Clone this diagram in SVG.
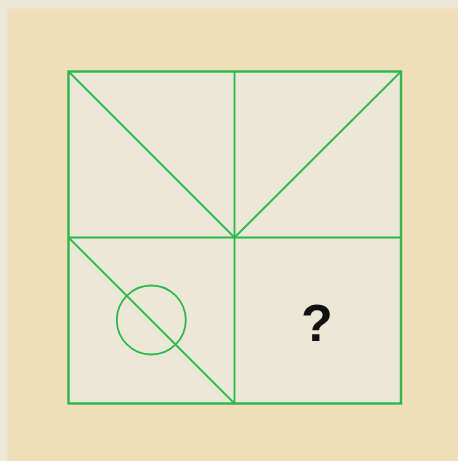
<svg xmlns="http://www.w3.org/2000/svg" width="458" height="461" viewBox="0 0 458 461">
<style>
.ln{stroke:#2bb84a;stroke-width:1.8;fill:none}
.out{stroke:#2bb84a;stroke-width:2.4;fill:#ece8d7}
.q{font-family:"Liberation Sans",Arial,sans-serif;font-weight:bold;font-size:52px;fill:#111}
</style>
<rect x="0" y="0" width="458" height="461" fill="#ece8d8"/>
<rect x="7.5" y="8.5" width="451" height="453" fill="#f0deb8"/>
<g id="grid">
<rect class="out" x="68.5" y="71.5" width="332.5" height="332"/>
</g>
<g id="connectors">
<line class="ln" x1="234.5" y1="71.5" x2="234.5" y2="403.5"/>
<line class="ln" x1="68.5" y1="237.5" x2="401" y2="237.5"/>
<line class="ln" x1="68.5" y1="71.5" x2="234.5" y2="237.5"/>
<line class="ln" x1="401" y1="71.5" x2="234.5" y2="237.5"/>
<line class="ln" x1="68.5" y1="237.5" x2="234.5" y2="403.5"/>
</g>
<g id="circle">
<circle class="ln" cx="151.3" cy="320" r="34.5"/>
</g>
<g id="question">
<text class="q" x="317" y="340.5" text-anchor="middle">?</text>
</g>
</svg>
